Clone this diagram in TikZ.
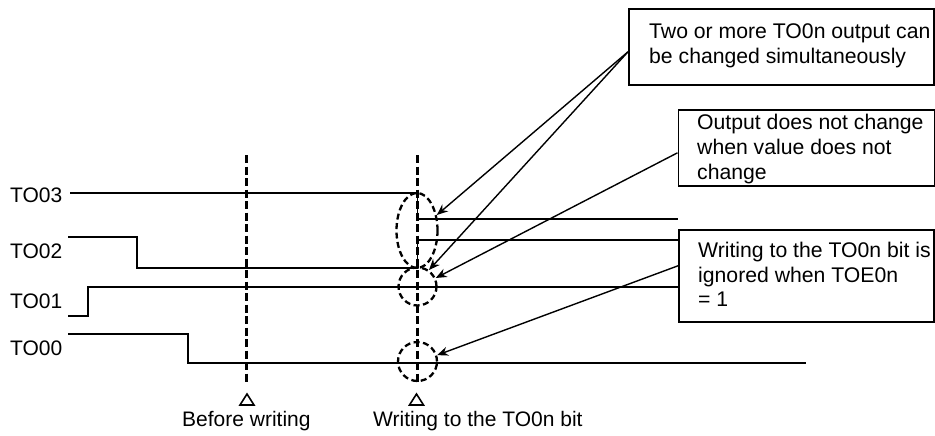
\documentclass[tikz,border=0pt]{standalone}
\usepackage{fontspec}
\setmainfont{Liberation Sans}
\usetikzlibrary{shapes.geometric,arrows.meta,calc}
\begin{document}
\begin{tikzpicture}[x=1pt,y=-1pt,
  every node/.style={font=\fontsize{21}{25}\selectfont},
  txt/.style={anchor=base west,inner sep=0pt},
  btxt/.style={anchor=base west,inner sep=0pt,font=\fontsize{21.2}{25}\selectfont},
  wave/.style={line width=1.6pt},
  vdash/.style={line width=2.6pt,dash pattern=on 8pt off 3.5pt},
  ring/.style={draw,line width=2.3pt,dash pattern=on 6pt off 3.5pt,inner sep=0pt},
  boxst/.style={draw,line width=1.6pt,anchor=north west,inner sep=0pt},
  arr/.style={line width=1.4pt,-{Stealth[length=11pt,width=9pt]}},
  tri/.style={line width=1.6pt}]
\useasboundingbox (0,0) rectangle (935,436);

% labels
\node[txt] (l3) at (10,202) {TO03};
\node[txt] (l2) at (10,258) {TO02};
\node[txt] (l1) at (10,308) {TO01};
\node[txt] (l0) at (10,355.5) {TO00};

% waveforms
\draw[wave] (70,193) -- (417.5,193) -- (417.5,219) -- (678,219);
\draw[wave] (68,237) -- (137,237) -- (137,268) -- (417.5,268) -- (417.5,240) -- (678,240);
\draw[wave] (68,316) -- (88,316) -- (88,287) -- (678,287);
\draw[wave] (68,334) -- (188,334) -- (188,363) -- (806,363);

% dashed time markers
\draw[vdash] (246.5,155) -- (246.5,382);
\draw[vdash] (417.5,155) -- (417.5,382);

% triangles
\draw[tri] (247,394) -- (240,405) -- (254,405) -- cycle;
\draw[tri] (416.5,394) -- (409.5,405) -- (423.5,405) -- cycle;

\node[txt] (bw) at (182,426) {Before writing};
\node[txt] (wt) at (373,426) {Writing to the TO0n bit};

% dashed ellipses
\node[ring,ellipse,minimum width=41pt,minimum height=75pt] (e1) at (417,230.5) {};
\node[ring,circle,minimum size=38pt] (c1) at (417.5,286.5) {};
\node[ring,circle,minimum size=39pt] (c2) at (417.5,361.5) {};
\coordinate (m) at (429,270);

% boxes
\node[boxst,minimum width=305pt,minimum height=76pt] (b1) at (628,8) {};
\node[boxst,minimum width=256pt,minimum height=76pt] (b2) at (677.5,109) {};
\node[boxst,minimum width=255pt,minimum height=92pt] (b3) at (678,229) {};

\node[btxt] (t1a) at (649,39) {Two or more TO0n output can};
\node[btxt] (t1b) at (649,63.5) {be changed simultaneously};
\node[btxt] (t2a) at (697,129) {Output does not change};
\node[btxt] (t2b) at (697,154) {when value does not};
\node[btxt] (t2c) at (697,179) {change};
\node[btxt] (t3a) at (698,257) {Writing to the TO0n bit is};
\node[btxt] (t3b) at (698,282) {ignored when TOE0n};
\node[btxt] (t3c) at (698,306) {= 1};

% arrows
\draw[arr] ([yshift=-5pt]b1.west) -- (e1.38);
\draw[arr] ([yshift=-5pt]b1.west) -- (m);
\draw[arr] ([yshift=-5pt]b2.west) -- (c1.25);
\draw[arr] ([yshift=10pt]b3.west) -- (c2.18);
\end{tikzpicture}
\end{document}
